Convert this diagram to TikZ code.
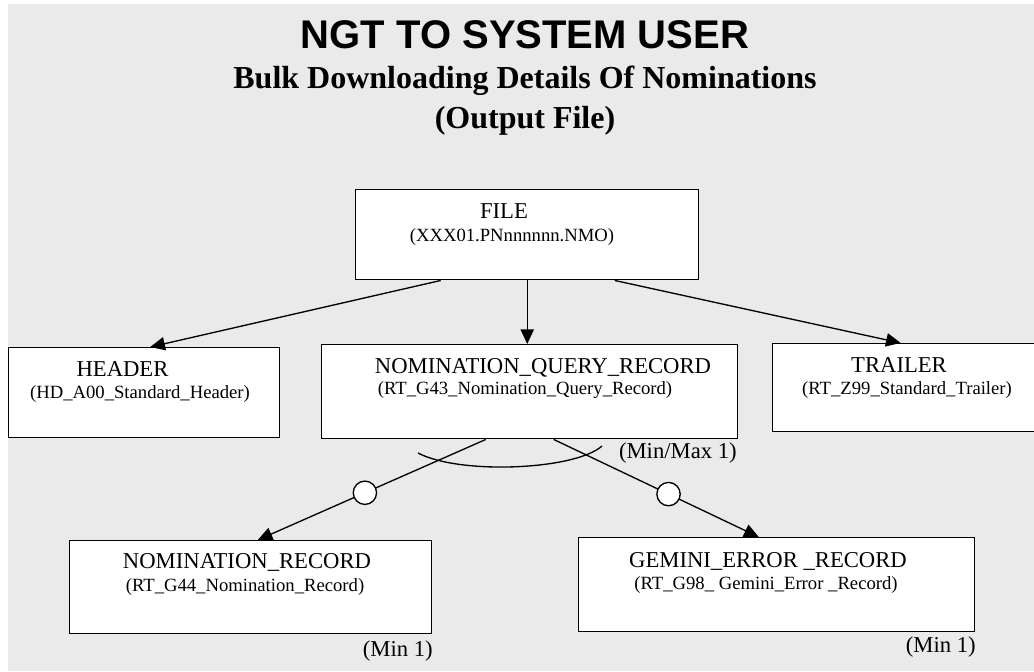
\documentclass[tikz,border=0pt]{standalone}
\usepackage{fontspec}
\setmainfont{Liberation Serif}
\newfontfamily\headfont{Liberation Sans}
\usetikzlibrary{arrows.meta,calc}

\definecolor{pagegray}{RGB}{234,234,234}

\tikzset{
  recbox/.style={draw,line width=1.1pt,fill=white,anchor=north west,inner sep=0pt},
  rectitle/.style={anchor=base,inner sep=0pt,font=\fontsize{17}{17}\selectfont},
  recsub/.style={anchor=base,inner sep=0pt,font=\fontsize{14}{14}\selectfont},
  occurs/.style={anchor=base east,inner sep=0pt,font=\fontsize{17}{17}\selectfont},
  link/.style={line width=1pt,-{Triangle[length=11pt,width=10pt]}},
  optional/.style={circle,draw,line width=1pt,fill=white,minimum size=17.5pt,inner sep=0pt}
}

\begin{document}
\begin{tikzpicture}[x=0.75pt,y=-0.75pt]
        \useasboundingbox (0,0) rectangle (1034,671);
        \fill[white] (0,0) rectangle (1034,671);
        \fill[pagegray] (8,4) rectangle (1034,671);

        \node[anchor=base,inner sep=0pt,font=\headfont\bfseries\fontsize{30}{30}\selectfont] (title) at (525,48) {NGT TO SYSTEM USER};
        \node[anchor=base,inner sep=0pt,font=\bfseries\fontsize{24}{24}\selectfont] (subtitle) at (525,88) {Bulk Downloading Details Of Nominations};
        \node[anchor=base,inner sep=0pt,font=\bfseries\fontsize{24}{24}\selectfont] (outfile) at (525,128) {(Output File)};

        % records
        \node[recbox,minimum width=257.25pt,minimum height=67.5pt] (file) at (355,189) {};
        \node[rectitle] (file-t) at (504,218) {FILE};
        \node[recsub] (file-s) at (512,241) {(XXX01.PNnnnnnn.NMO)};

        \node[recbox,minimum width=203.25pt,minimum height=67.5pt] (header) at (8,347) {};
        \node[rectitle] (header-t) at (122.5,376) {HEADER};
        \node[recsub] (header-s) at (140,398) {(HD\_A00\_Standard\_Header)};

        \node[recbox,minimum width=312pt,minimum height=70.5pt] (query) at (321,344) {};
        \node[rectitle] (query-t) at (543,373) {NOMINATION\_QUERY\_RECORD};
        \node[recsub] (query-s) at (525,394) {(RT\_G43\_Nomination\_Query\_Record)};

        \node[recbox,minimum width=201pt,minimum height=66pt] (trailer) at (772,343) {};
        \node[rectitle] (trailer-t) at (899,372) {TRAILER};
        \node[recsub] (trailer-s) at (907,394) {(RT\_Z99\_Standard\_Trailer)};

        \node[recbox,minimum width=271.5pt,minimum height=69.75pt] (nomrec) at (69,540) {};
        \node[rectitle] (nomrec-t) at (247,568) {NOMINATION\_RECORD};
        \node[recsub] (nomrec-s) at (245,591) {(RT\_G44\_Nomination\_Record)};

        \node[recbox,minimum width=297pt,minimum height=70.5pt] (gemerr) at (578,537) {};
        \node[rectitle] (gemerr-t) at (768,567) {GEMINI\_ERROR \_RECORD};
        \node[recsub] (gemerr-s) at (766,589) {(RT\_G98\_ Gemini\_Error \_Record)};

        % links
        \draw[link] ($(file.south)+(-86.5,0)$) -- ($(header.north)+(6,0)$);
        \draw[link] (file.south) -- (file.south |- query.north);
        \draw[link] ($(file.south)+(87.5,0)$) -- ($(trailer.north)+(-6,0)$);

        \draw[link] ($(query.south)+(-44,0)$) -- node[optional,pos=0.53] (optnom) {} ($(nomrec.north)+(7,0)$);
        \draw[link] ($(query.south)+(24,0)$) -- node[optional,pos=0.56] (opterr) {} ($(gemerr.north)+(-18,0)$);

        % choice arc
        \draw[line width=1pt] (418,453) .. controls (460,475) and (575,470) .. (602,446);

        \node[occurs] (minmax) at (737,458) {(Min/Max 1)};
        \node[occurs] (nomrec-min) at (433,656) {(Min 1)};
        \node[occurs] (gemerr-min) at (976,652) {(Min 1)};
\end{tikzpicture}
\end{document}
